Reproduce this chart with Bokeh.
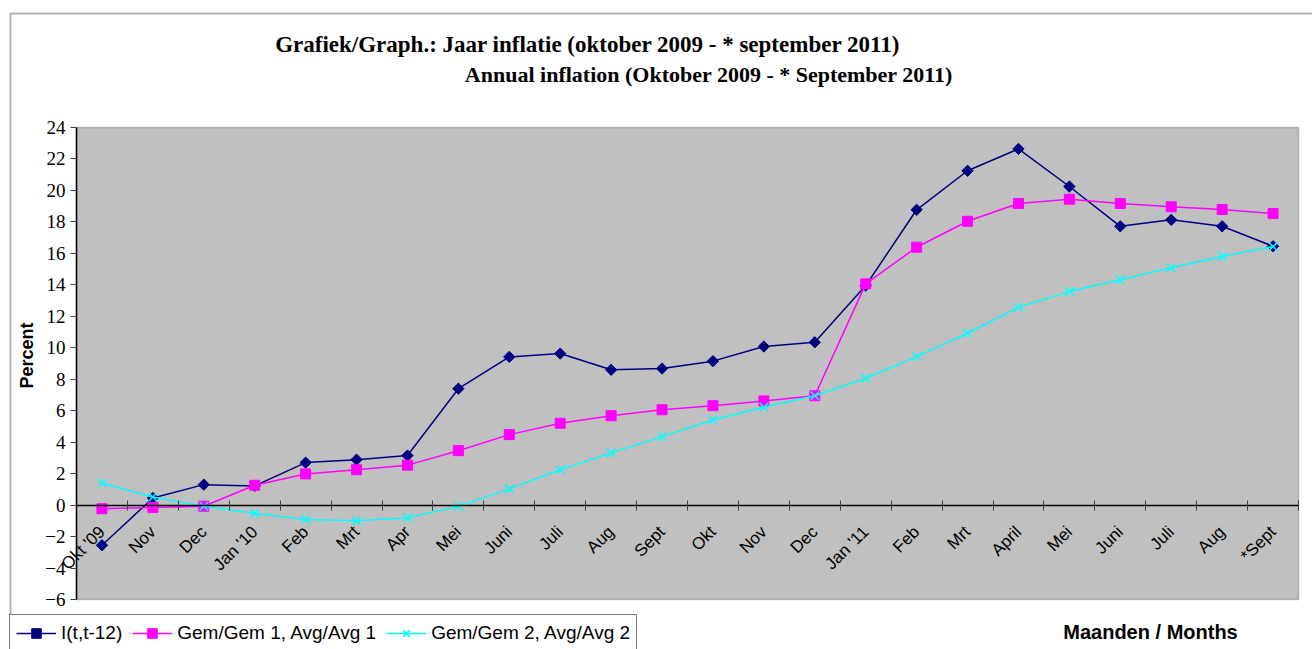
import math
from bokeh.plotting import figure
from bokeh.models import (Range1d, LinearAxis, FixedTicker, Legend, LegendItem,
                          Label, BoxAnnotation, InlineStyleSheet)
from bokeh.embed import file_html
from bokeh.resources import INLINE

months = ["Okt '09", "Nov", "Dec", "Jan '10", "Feb", "Mrt", "Apr", "Mei", "Juni",
          "Juli", "Aug", "Sept", "Okt", "Nov", "Dec", "Jan '11", "Feb", "Mrt",
          "April", "Mei", "Juni", "Juli", "Aug", "*Sept"]
inflation = [-2.55, 0.45, 1.3, 1.22, 2.7, 2.89, 3.15, 7.4, 9.42, 9.63, 8.6, 8.68,
             9.15, 10.08, 10.35, 13.95, 18.77, 21.25, 22.64, 20.25, 17.72, 18.13,
             17.72, 16.45]
avg1 = [-0.23, -0.15, -0.07, 1.26, 1.98, 2.25, 2.54, 3.46, 4.48, 5.2, 5.68, 6.06,
        6.32, 6.62, 6.95, 14.06, 16.39, 18.04, 19.17, 19.44, 19.17, 18.96, 18.79,
        18.53]
avg2 = [1.4, 0.51, -0.07, -0.52, -0.91, -1.0, -0.81, -0.08, 1.03, 2.25, 3.32, 4.35,
        5.41, 6.22, 6.95, 8.06, 9.44, 10.92, 12.57, 13.57, 14.32, 15.08, 15.8, 16.43]
y_min, y_max = -6, 24
y_ticks = list(range(-6, 25, 2))
series_names = ["I(t,t-12)", "Gem/Gem 1, Avg/Avg 1", "Gem/Gem 2, Avg/Avg 2"]
title_1 = "Grafiek/Graph.:  Jaar inflatie  (oktober 2009 -  * september 2011)"
title_2 = "Annual inflation (Oktober 2009 -  * September  2011)"
x_title = "Maanden / Months"
y_title = "Percent"

# ---- layout (pixels) ----
W, H = 1312, 649
PL, PR, PT, PB = 76, 1298, 127, 599   # plot-area edges

n = len(months)
xs = [i + 0.5 for i in range(n)]
sx = (PR - PL) / n
sy = (PB - PT) / (y_max - y_min)
xr = Range1d(-PL / sx, n + (W - PR) / sx)
yr = Range1d(y_min - (H - PB) / sy, y_max + PT / sy)

p = figure(width=W, height=H, output_backend="svg", toolbar_location=None,
           x_range=xr, y_range=yr, x_axis_location=None, y_axis_location=None,
           min_border=0, min_border_left=0, min_border_right=0,
           min_border_top=0, min_border_bottom=0,
           background_fill_color="white", border_fill_color="white",
           outline_line_color=None)
p.stylesheets = [InlineStyleSheet(css="text { white-space: pre; }")]
p.xgrid.visible = False
p.ygrid.visible = False

# plot area
p.add_layout(BoxAnnotation(left=0, right=n, bottom=y_min, top=y_max,
                           fill_color="#C0C0C0", fill_alpha=1,
                           line_color="#404040", line_width=1.5, level="underlay"))

ya = LinearAxis(ticker=FixedTicker(ticks=y_ticks), fixed_location=0,
                bounds=(y_min, y_max), axis_line_color="black", axis_line_width=1.5,
                major_tick_in=0, major_tick_out=6, major_tick_line_color="#404040",
                minor_tick_line_color=None,
                major_label_text_font="Liberation Serif",
                major_label_text_font_size="19px", major_label_text_color="black",
                major_label_standoff=5)
p.add_layout(ya, "left")

ax_ticks = LinearAxis(ticker=FixedTicker(ticks=list(range(n + 1))),
                      fixed_location=0, bounds=(0, n),
                      major_tick_in=5, major_tick_out=5,
                      major_tick_line_color="#404040", minor_tick_line_color=None,
                      major_label_text_color=None, axis_line_color="black",
                      axis_line_width=1.5)
ax_labels = LinearAxis(ticker=FixedTicker(ticks=xs),
                       major_label_overrides={x: m for x, m in zip(xs, months)},
                       fixed_location=0, major_tick_line_color=None,
                       major_tick_in=0, major_tick_out=0,
                       minor_tick_line_color=None, axis_line_color=None,
                       major_label_orientation=math.pi / 4,
                       major_label_standoff=24,
                       major_label_text_font="Liberation Sans",
                       major_label_text_font_size="17px",
                       major_label_text_color="black")
p.add_layout(ax_labels, "below")
p.add_layout(ax_ticks, "below")

l1 = p.line(xs, inflation, line_color="#000080", line_width=1.5)
s1 = p.scatter(xs, inflation, marker="square", angle=math.pi / 4, size=8,
               color="#000080")
l2 = p.line(xs, avg1, line_color="#FF00FF", line_width=1.5)
s2 = p.scatter(xs, avg1, marker="square", size=10, color="#FF00FF")
l3 = p.line(xs, avg2, line_color="#00FFFF", line_width=1.5)
s3 = p.scatter(xs, avg2, marker="x", size=12, line_color="#00FFFF", line_width=1.5)

legend = Legend(items=[LegendItem(label=series_names[0], renderers=[l1, s1]),
                       LegendItem(label=series_names[1], renderers=[l2, s2]),
                       LegendItem(label=series_names[2], renderers=[l3, s3])],
                orientation="horizontal", location=(9, -3),
                border_line_color="black", border_line_width=1,
                background_fill_color="white", background_fill_alpha=1,
                label_text_font="Liberation Sans", label_text_font_size="19px",
                label_text_color="black",
                glyph_width=40, glyph_height=24, label_standoff=5, spacing=10,
                padding=6, margin=0)
p.add_layout(legend)

p.add_layout(Label(x=596, y=H - 44, x_units="screen", y_units="screen", text=title_1,
                   text_align="center", text_baseline="middle", text_color="black",
                   text_font="Liberation Serif", text_font_style="bold",
                   text_font_size="23px"))
p.add_layout(Label(x=714, y=H - 74, x_units="screen", y_units="screen", text=title_2,
                   text_align="center", text_baseline="middle", text_color="black",
                   text_font="Liberation Serif", text_font_style="bold",
                   text_font_size="22px"))
p.add_layout(Label(x=1150, y=H - 631, x_units="screen", y_units="screen",
                   text=x_title, text_align="center", text_baseline="middle",
                   text_color="black", text_font="Liberation Sans",
                   text_font_style="bold", text_font_size="20px"))
p.add_layout(Label(x=26, y=H - 355, x_units="screen", y_units="screen",
                   text=y_title, angle=math.pi / 2, text_align="center",
                   text_baseline="middle", text_color="black",
                   text_font="Liberation Sans",
                   text_font_style="bold", text_font_size="18px"))
p.add_layout(BoxAnnotation(left=10, right=W + 50, top=H - 13, bottom=-50,
                           left_units="screen", right_units="screen",
                           top_units="screen", bottom_units="screen",
                           fill_color=None, line_color="black", line_width=2))

open("out.html", "w").write(file_html(p, INLINE))
